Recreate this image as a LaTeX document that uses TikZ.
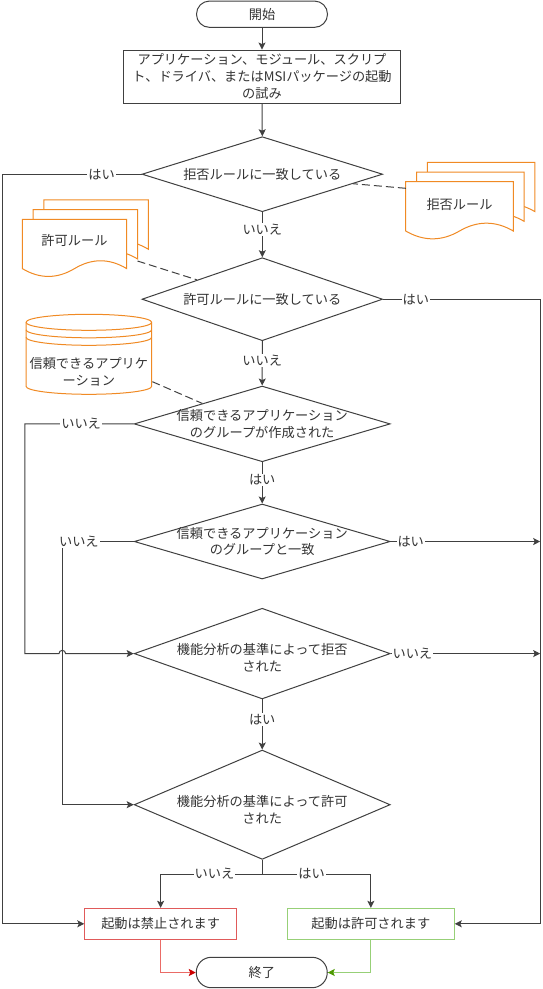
\documentclass[tikz,border=0pt]{standalone}
\usepackage{fontspec}
\setmainfont{Noto Sans CJK JP}
\usetikzlibrary{shapes.geometric,arrows.meta,calc}
\definecolor{txt}{HTML}{333333}
\definecolor{linec}{HTML}{404040}
\definecolor{orng}{HTML}{F08A24}
\definecolor{redb}{HTML}{E05A5A}
\definecolor{redl}{HTML}{EA6B66}
\definecolor{redh}{HTML}{CC0000}
\definecolor{grnb}{HTML}{97D077}
\definecolor{grnh}{HTML}{4D9900}
\newcommand\mydoc[3]{%
  \begin{scope}[shift={(#1,#2)}]
    \draw[docst] (0,0) -- (#3,0) -- (#3,49.3)
      .. controls ({5*#3/6},38.86) and ({2*#3/3},38.86) .. ({#3/2},49.3)
      .. controls ({#3/3},59.74) and ({#3/6},59.74) .. (0,49.3) -- cycle;
  \end{scope}}
\newcommand\mymultidoc[3]{%
  \mydoc{#1+21.6}{#2-19.4}{#3}%
  \mydoc{#1+10.8}{#2-9.7}{#3}%
  \mydoc{#1}{#2}{#3}}
\begin{document}
\begin{tikzpicture}[x=1pt,y=-1pt,
  font=\fontsize{13.2pt}{16.8pt}\selectfont,
  base/.style={draw=linec, line width=1pt, text=txt, fill=white},
  term/.style={base, rounded corners=13pt, minimum width=131pt, minimum height=26.3pt, inner sep=0pt},
  proc/.style={base, minimum width=277pt, minimum height=53.3pt, align=center, inner sep=0pt},
  dec/.style={base, diamond, inner sep=0pt},
  dlbl/.style={align=center, text=txt, inner sep=0pt},
  res/.style={base, minimum height=31pt, inner sep=0pt},
  lbl/.style={fill=white, inner sep=1pt, text=txt},
  plain/.style={text=txt, align=center, inner sep=0pt},
  arr/.style={draw=linec, line width=1pt, -{Stealth[length=7pt,width=7pt,inset=1.5pt]}},
  ln/.style={draw=linec, line width=1pt},
  dashln/.style={draw=linec, line width=1pt, dash pattern=on 8pt off 4pt},
  docst/.style={draw=orng, line width=1pt, fill=white},
  cylst/.style={draw=orng, line width=1pt, fill=white}
]
\useasboundingbox (0,0) rectangle (543,989);

% side documents and data store
\mymultidoc{405.7}{181.7}{107.6}
\node[plain] (rdoc) at (459.5,204) {拒否ルール};
\mymultidoc{22.3}{219.3}{104.4}
\node[plain] (adoc) at (74.5,240.5) {許可ルール};

\draw[cylst] (26,322.3) arc (180:360:62.85 and 8) -- (151.7,386.3)
  arc (0:180:62.85 and 8) -- cycle;
\foreach \k in {0,1,2}{
  \draw[cylst, fill=none] (26,322.3+7.5*\k) arc (180:0:62.85 and 8);
}
\node[plain] (cyl) at (88.85,372) {信頼できるアプリケ\\ーション};

% main nodes
\node[term] (start) at (262,14.2) {開始};
\node[proc] (proc) at (262,76.7) {アプリケーション、モジュール、スクリプ\\ト、ドライバ、またはMSIパッケージの起動\\の試み};
\node[dec, minimum width=240.6pt, minimum height=75pt,
  label={[dlbl]center:拒否ルールに一致している}] (d1) at (262.3,174.2) {};
\node[dec, minimum width=240.6pt, minimum height=83pt,
  label={[dlbl]center:許可ルールに一致している}] (d2) at (262.3,299.2) {};
\node[dec, minimum width=256pt, minimum height=75.7pt,
  label={[dlbl]center:信頼できるアプリケーション\\のグループが作成された}] (d3) at (262.2,423.9) {};
\node[dec, minimum width=256pt, minimum height=75pt,
  label={[dlbl]center:信頼できるアプリケーション\\のグループと一致}] (d4) at (262.2,541.5) {};
\node[dec, minimum width=256pt, minimum height=90.7pt,
  label={[dlbl,yshift=-4pt]center:機能分析の基準によって拒否\\された}] (d5) at (262.2,653.6) {};
\node[dec, minimum width=256pt, minimum height=109.3pt,
  label={[dlbl,yshift=-5pt]center:機能分析の基準によって許可\\された}] (d6) at (262.2,804.7) {};
\node[res, draw=redb, minimum width=151.7pt] (deny) at (160.65,923.8) {起動は禁止されます};
\node[res, draw=grnb, minimum width=166.9pt] (allow) at (370.85,923.8) {起動は許可されます};
\node[term, rounded corners=15pt, minimum height=30.4pt] (end) at (261.75,972.5) {終了};

% helper columns
\coordinate (L1) at (2,0);
\coordinate (L2) at (24.9,0);
\coordinate (L3) at (62.3,0);
\coordinate (R1) at (540.9,0);
\coordinate (R2) at (540.2,0);
\coordinate (split) at (262.2,874);

% connectors
\draw[arr] (start.south) -- (proc.north);
\draw[arr] (proc.south) -- (d1.north);
\draw[arr] (d1.west) -- node[lbl,pos=0.286]{はい} (d1.west -| L1) |- (deny.west);
\draw[arr] (d1.south) -- node[lbl,pos=0.376]{いいえ} (d2.north);
\draw[arr] (d2.east) -- node[lbl,pos=0.208]{はい} (d2.east -| R1) |- (allow.east);
\draw[arr] (d2.south) -- node[lbl,pos=0.43]{いいえ} (d3.north);
\draw[arr] (d3.west) -- node[lbl,pos=0.483]{いいえ} (d3.west -| L2) -- (d5.west -| L2)
  -- ($(d5.west -| L3)+(-3.3,0)$) arc (180:360:3.3) -- (d5.west);
\draw[arr] (d3.south) -- node[lbl,pos=0.43]{はい} (d4.north);
\draw[arr] (d4.west) -- node[lbl,pos=0.768]{いいえ} (d4.west -| L3) |- (d6.west);
\draw[arr] (d4.east) -- node[lbl,pos=0.134]{はい} (d4.east -| R2);
\draw[arr] (d5.east) -- node[lbl,pos=0.145]{いいえ} (d5.east -| R2);
\draw[arr] (d5.south) -- node[lbl,pos=0.4]{はい} (d6.north);
\draw[ln] (d6.south) -- (split);
\draw[arr] (split) -- node[lbl,pos=0.47]{いいえ} (split -| deny.north) -- (deny.north);
\draw[arr] (split) -- node[lbl,pos=0.454]{はい} (split -| allow.north) -- (allow.north);
\draw[draw=redl, line width=1pt, -{Stealth[length=7pt,width=7pt,inset=1.5pt,color=redh]}]
  (deny.south) |- (end.west);
\draw[draw=grnb, line width=1pt, -{Stealth[length=7pt,width=7pt,inset=1.5pt,color=grnh]}]
  (allow.south) |- (end.east);

% associations
\coordinate (rdA) at (405.8,188.3);
\coordinate (adA) at (137.5,261);
\coordinate (cyA) at (152.4,381.7);
\draw[dashln] (rdA) -- ($(d1.east)!0.25!(d1.south)$);
\draw[dashln] (adA) -- ($(d2.west)!0.46!(d2.north)$);
\draw[dashln] (cyA) -- ($(d3.west)!0.534!(d3.north)$);
\end{tikzpicture}
\end{document}
